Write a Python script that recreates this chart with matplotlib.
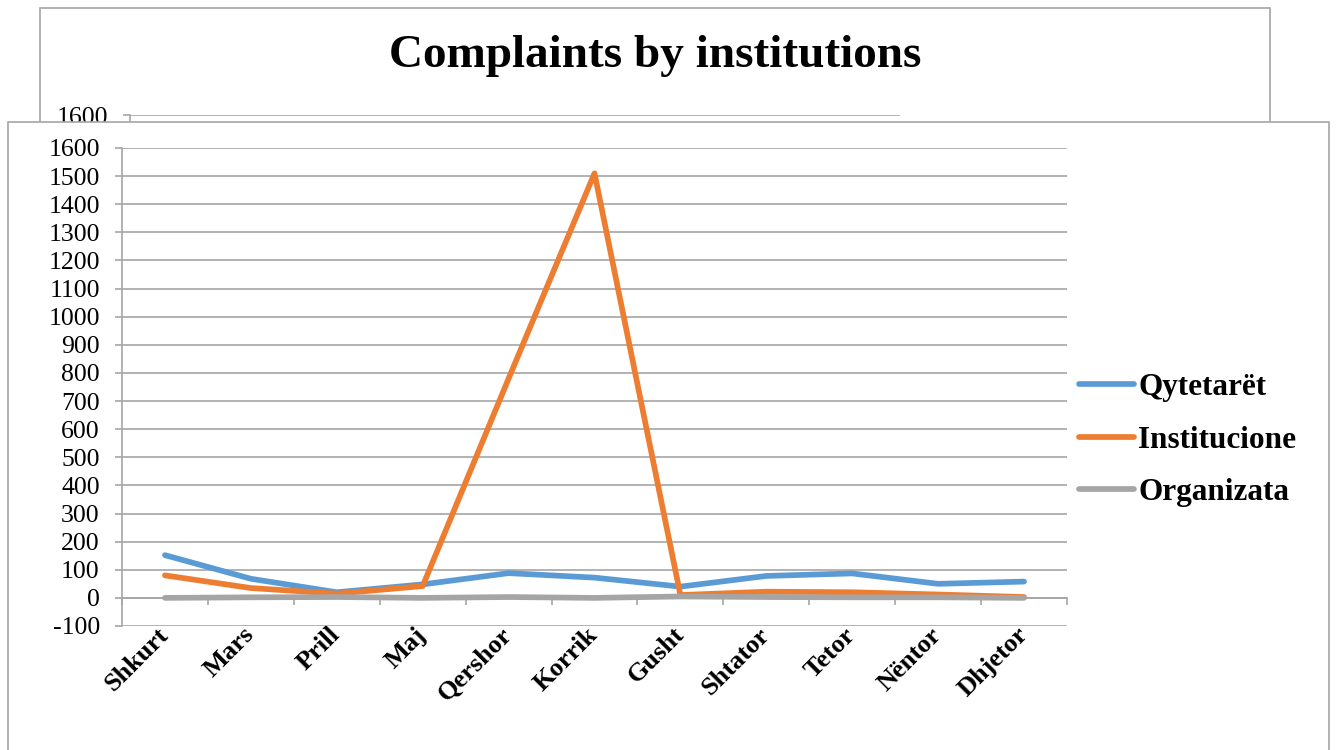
import matplotlib.pyplot as plt
from matplotlib.patches import Rectangle

# ---------------- data ----------------
months = ['Shkurt', 'Mars', 'Prill', 'Maj', 'Qershor', 'Korrik',
          'Gusht', 'Shtator', 'Tetor', 'Nëntor', 'Dhjetor']
qytetaret = [152, 68, 20, 48, 88, 72, 40, 78, 87, 50, 58]
institucione = [80, 35, 15, 42, 780, 1510, 10, 22, 20, 12, 3]
organizata = [0, 2, 3, 0, 3, 0, 5, 3, 2, 2, 0]
yticks = list(range(-100, 1700, 100))

series = [('Qytetarët', qytetaret, '#5b9bd5'),
          ('Institucione', institucione, '#ed7d31'),
          ('Organizata', organizata, '#a5a5a5')]

W, H = 1336, 750
fig = plt.figure(figsize=(W / 100, H / 100), dpi=100)
serif = 'Liberation Serif'
grid_c = '#a6a6a6'


def fx(px):
    return px / W


def fy(py):
    return 1 - py / H


def style_axes(ax, ticks, show_x=True):
    x = list(range(len(months)))
    for name, vals, col in series:
        ax.plot(x, vals, color=col, lw=4.1, solid_capstyle='round',
                solid_joinstyle='round', label=name, zorder=3)
    ax.set_ylim(-100, 1600)
    ax.set_xlim(-0.5, len(months) - 0.5)
    ax.set_yticks(ticks)
    ax.set_yticklabels([str(v) for v in ticks], fontfamily=serif, fontsize=18.5)
    ax.grid(axis='y', color=grid_c, lw=1.2)
    ax.set_axisbelow(True)
    for s in ['top', 'right']:
        ax.spines[s].set_visible(False)
    ax.spines['left'].set_color(grid_c)
    ax.spines['left'].set_linewidth(1.2)
    ax.tick_params(axis='y', length=5, color=grid_c, width=1.2, pad=11)
    ax.spines['bottom'].set_position(('data', 0))
    ax.spines['bottom'].set_color(grid_c)
    ax.spines['bottom'].set_linewidth(1.2)
    ax.set_xticks(x)
    if show_x:
        ax.set_xticklabels(months, rotation=45, ha='right', va='center',
                           rotation_mode='anchor', fontfamily=serif,
                           fontsize=19, fontweight='bold')
    else:
        ax.set_xticklabels([])
    ax.tick_params(axis='x', length=0, pad=24)
    ax.set_xticks([i + 0.5 for i in range(-1, len(months))], minor=True)
    ax.tick_params(axis='x', which='minor', length=5, color=grid_c,
                   width=1.2, direction='out')
    ax.patch.set_alpha(0)


# back chart (mostly hidden behind the front one)
fig.patches.append(Rectangle((fx(40), fy(300)), fx(1270) - fx(40),
                             fy(8) - fy(300), transform=fig.transFigure,
                             facecolor='white', edgecolor=grid_c, lw=1.2,
                             zorder=0))
fig.text(fx(655), fy(56), 'Complaints by institutions', ha='center',
         va='center', fontfamily=serif, fontweight='bold', fontsize=34)
back = fig.add_axes([fx(130), fy(600), fx(900) - fx(130), fy(115) - fy(600)])
back.set_zorder(0.5)
style_axes(back, [1600], show_x=False)

# front panel
fig.patches.append(Rectangle((fx(8), fy(760)), fx(1329) - fx(8),
                             fy(122) - fy(760), transform=fig.transFigure,
                             facecolor='white', edgecolor=grid_c, lw=1.2,
                             zorder=1))
ax = fig.add_axes([fx(122), fy(626), fx(1067) - fx(122), fy(148) - fy(626)])
ax.set_zorder(2)
style_axes(ax, yticks)

ax.legend(loc='center left', bbox_to_anchor=(fx(1079), fy(440)),
          bbox_transform=fig.transFigure, frameon=False,
          prop={'family': serif, 'weight': 'bold', 'size': 22.5},
          handlelength=1.75, handletextpad=0.15, labelspacing=0.75,
          borderpad=0, borderaxespad=0)

fig.savefig('out.png', dpi=100)
